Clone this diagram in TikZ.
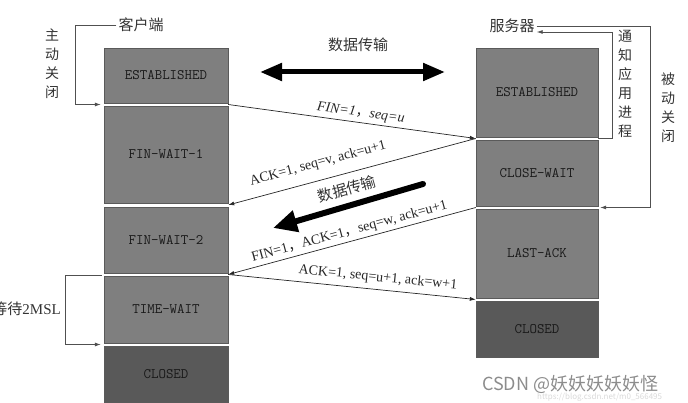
\documentclass[tikz,border=0pt]{standalone}
\usepackage{fontspec}
\setmainfont{Liberation Serif}
\newfontfamily\cjk{Noto Sans CJK SC}
\usetikzlibrary{arrows.meta,calc,positioning}
\definecolor{boxgray}{HTML}{7F7F7F}
\definecolor{boxdark}{HTML}{595959}
\definecolor{edgegray}{HTML}{5A5A5A}
\definecolor{linegray}{HTML}{505050}
\tikzset{
	every node/.style={
		font=\fontsize{14}{16}\selectfont
	},
	state/.style={
		shape=rectangle,
		draw=edgegray,
		fill=boxgray,
		minimum width=124pt,
		inner sep=0pt,
		text=black!90,
		font=\ttfamily\fontsize{14.5}{16}\selectfont
	},
	closedstate/.style={
		state,
		fill=boxdark
	},
	cjklbl/.style={
		font=\cjk\fontsize{15}{18}\selectfont,
		text=black!80,
		inner sep=2pt
	},
	vtext/.style={
		font=\cjk\fontsize{14}{19}\selectfont,
		text=black!80,
		align=center,
		inner sep=0pt
	},
	msg/.style={
		draw=black!85,
		line width=0.7pt,
		-{Latex[length=6pt,width=4pt]}
	},
	msglbl/.style={
		sloped,
		text=black!85,
		inner sep=1pt,
		font=\fontsize{14}{16}\selectfont
	},
	loopline/.style={
		draw=linegray,
		line width=0.8pt,
		-{Latex[length=6pt,width=4pt]}
	},
	bigarrow/.style={
		line width=5pt,
		draw=black
	}
}

\begin{document}
\begin{tikzpicture}[x=1pt,y=-1pt]
	\useasboundingbox (0,0) rectangle (688,403);
	
	% client states
	\node[state] (cest) at (166,75.5) [minimum height=55pt] {ESTABLISHED};
	\node[state] (cfw1) at (166,154.5) [minimum height=97pt] {FIN-WAIT-1};
	\node[state] (cfw2) at (166,240) [minimum height=66pt] {FIN-WAIT-2};
	\node[state] (ctw) at (166,309.5) [minimum height=67pt] {TIME-WAIT};
	\node[closedstate] (ccl) at (166,374) [minimum height=56pt] {CLOSED};
	
	% server states
	\node[state, minimum width=122pt] (sest) at (537,92.5) [minimum height=89pt] {ESTABLISHED};
	\node[state, minimum width=122pt] (scw) at (537,173) [minimum height=66pt] {CLOSE-WAIT};
	\node[state, minimum width=122pt] (sla) at (537,253.5) [minimum height=89pt] {LAST-ACK};
	\node[closedstate, minimum width=122pt] (scl) at (537,329) [minimum height=56pt] {CLOSED};
	
	% gaps between the states
	\coordinate (c1) at ($(cest.south east)!.5!(cfw1.north east)$);
	\coordinate (c2) at ($(cfw1.south east)!.5!(cfw2.north east)$);
	\coordinate (c3) at ($(cfw2.south east)!.5!(ctw.north east)$);
	\coordinate (cw1) at ($(cest.south west)!.5!(cfw1.north west)$);
	\coordinate (cw4) at ($(ctw.south west)!.5!(ccl.north west)$);
	\coordinate (s1) at ($(sest.south west)!.5!(scw.north west)$);
	\coordinate (s2) at ($(scw.south west)!.5!(sla.north west)$);
	\coordinate (s3) at ($(sla.south west)!.5!(scl.north west)$);
	\coordinate (se1) at ($(sest.south east)!.5!(scw.north east)$);
	\coordinate (se2) at ($(scw.south east)!.5!(sla.north east)$);
	
	% labels
	\node[cjklbl] (client) at (141,25) {客户端};
	\node[cjklbl] (server) at (512,26) {服务器};
	\node[vtext] (active) at (52,63.5) {主\\动\\关\\闭};
	\node[vtext] (notify) at (625,83.5) {通\\知\\应\\用\\进\\程};
	\node[vtext] (passive) at (668,107.5) {被\\动\\关\\闭};
	\node[cjklbl, anchor=east, inner sep=0pt] (wait) at (61,309) {等待{\rmfamily 2MSL}};
	
	% side loops
	\draw[loopline, shorten >=3pt] (client.west) -- ++(-41,0) |- (cw1);
	\draw[loopline, shorten >=3pt] ([xshift=-2pt]ctw.north west) -- ++(-36,0) |- (cw4);
	\draw[loopline, shorten >=2pt] (server.east) -- ++(114,0) |- (se2);
	\draw[loopline] (se1) -- ++(14,0) |- ([yshift=-6pt]server.east);
	
	% messages
	\draw[msg] (c1) -- node[msglbl, above=2pt, pos=.53] {\itshape FIN=1{\cjk ，}seq=u} (s1);
	\draw[msg] (s1) -- node[msglbl, above=9pt, pos=.62] {ACK=1, seq=v, ack=u+1} (c2);
	\draw[msg] (s2) -- node[msglbl, above=2pt, pos=.5] {FIN=1{\cjk ，}ACK=1{\cjk ，}seq=w, ack=u+1} (c3);
	\draw[msg] (c3) -- node[msglbl, above=4pt, pos=.6] {ACK=1, seq=u+1, ack=w+1} (s3);
	
	% data transfer
	\node[cjklbl] (data1) at (358,45) {数据传输};
	\coordinate (d1a) at (260,72);
	\coordinate (d1b) at (445,72);
	\draw[bigarrow, {Triangle[length=22pt,width=17pt]}-{Triangle[length=22pt,width=17pt]}] (d1a) -- (d1b);
	\node[cjklbl, rotate=16] (data2) at (347,189) {数据传输};
	\coordinate (d2a) at (423,184);
	\coordinate (d2b) at (273,228);
	\draw[bigarrow, line width=6pt, line cap=round, -{Triangle[length=24pt,width=21pt]}] (d2a) -- (d2b);
	
	% watermark
	\node[font=\cjk\fontsize{18}{20}\selectfont, text=black!45, anchor=west, inner sep=0pt] (wm) at (482,384) {CSDN @妖妖妖妖妖怪};
	\node[font=\cjk\fontsize{8}{9}\selectfont, text=black!15, anchor=west, inner sep=0pt] (wmurl) at (537,397) {https://blog.csdn.net/m0\_566495};
\end{tikzpicture}
\end{document}
